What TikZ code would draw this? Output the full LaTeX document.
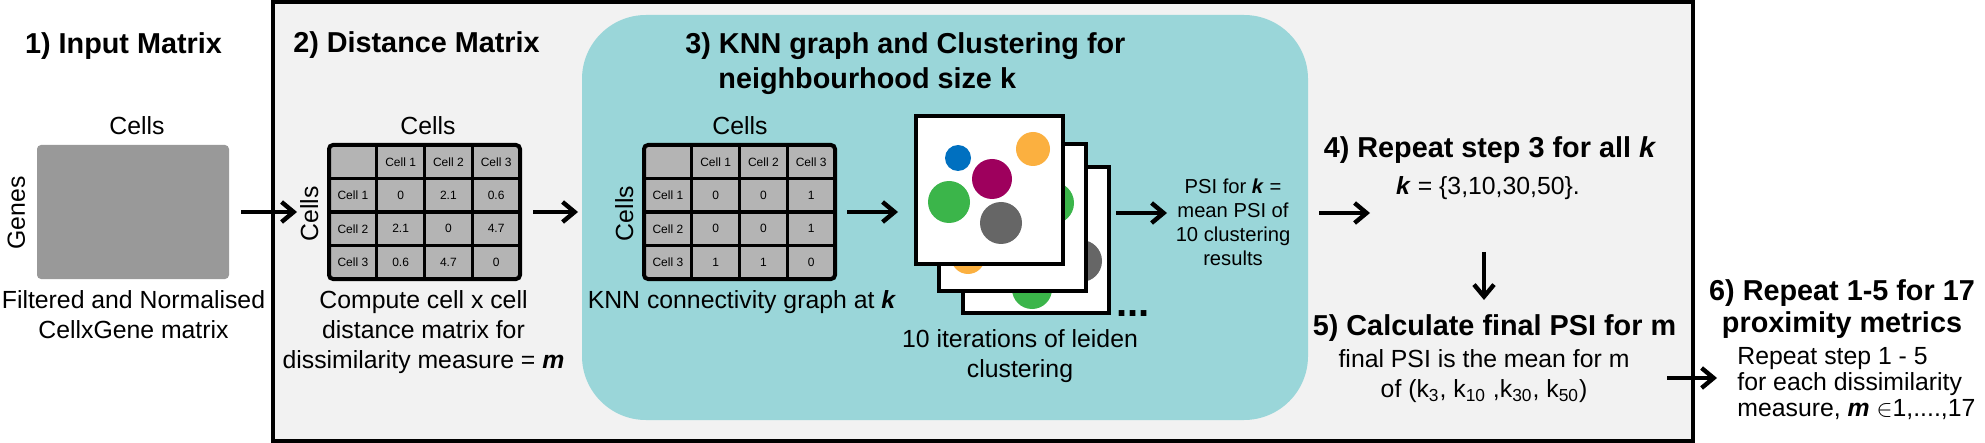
\documentclass[tikz,border=0pt]{standalone}
\usepackage{fontspec}
\setmainfont{Liberation Sans}
\usetikzlibrary{arrows.meta}
\definecolor{boxgray}{RGB}{242,242,242}
\definecolor{matgray}{RGB}{153,153,153}
\definecolor{tablegray}{RGB}{180,180,180}
\definecolor{tealbg}{RGB}{154,214,217}
\definecolor{dotblue}{RGB}{0,112,192}
\definecolor{dotorange}{RGB}{251,176,64}
\definecolor{dotpurple}{RGB}{158,0,93}
\definecolor{dotgreen}{RGB}{59,181,74}
\definecolor{dotgray}{RGB}{102,102,102}
\tikzset{steptitle/.style={font=\fontsize{14.4}{17.5}\selectfont\bfseries,inner sep=0pt}}
\tikzset{bodytext/.style={font=\fontsize{12.4}{15}\selectfont,inner sep=0pt,align=center}}
\tikzset{celltext/.style={font=\fontsize{6}{7}\selectfont,inner sep=0pt}}
\tikzset{flow/.style={line width=2.2pt,-{Straight Barb[length=6pt,width=10pt]}}}
\tikzset{sheet/.style={line width=2pt,draw=black}}
% table of cells: name, left edge, rows
\newcommand{\celltable}[3]{%
  \fill[tablegray,rounded corners=2pt] (#2,145) rectangle ++(191,134);
  \foreach \i in {1,2,3} {
    \draw[line width=1.6pt] (#2+47.75*\i,145) -- ++(0,134);
    \draw[line width=1.6pt] (#2,145+33.5*\i) -- ++(191,0);
  }
  \draw[line width=2pt,rounded corners=2pt] (#2,145) rectangle ++(191,134);
  \foreach [count=\r from 0] \row in {#3} {
    \foreach [count=\c from 0] \v in \row
      \node[celltext] (#1-\r-\c) at (#2+47.75*\c+23.875,145+33.5*\r+16.75) {\v};
  }
}

\begin{document}
\begin{tikzpicture}[x=0.5pt,y=-0.5pt]
	\useasboundingbox (0,0) rectangle (1985,443);
	% 1) input
	\node[steptitle,anchor=base] (title1) at (123.5,54) {1) Input Matrix};
	\node[bodytext,anchor=base] (incells) at (137,135) {Cells};
	\node[fill=matgray,rounded corners=2pt,minimum width=96pt,minimum height=67pt,inner sep=0pt] (inmat) at (133,212) {};
	\node[bodytext,anchor=base,rotate=90] (genes) at (25,213) {Genes};
	\node[bodytext,anchor=north] (infoot) at (133.5,290) {Filtered and Normalised\\CellxGene matrix};
	\coordinate (a1s) at (241,212);
	\coordinate (a1e) at (297,212);

	\draw[line width=1.6pt,fill=boxgray] (273,2) rectangle (1693,441);
	\draw[flow] (a1s) -- (a1e);

	% 2) distance
	\node[steptitle,anchor=base] (title2) at (416.5,53) {2) Distance Matrix};
	\node[bodytext,anchor=base] (dcells) at (428,135) {Cells};
	\node[bodytext,anchor=base,rotate=90] (dcellsv) at (318,214) {Cells};
	\celltable{d}{329}{{{},Cell 1,Cell 2,Cell 3},{Cell 1,0,2.1,0.6},{Cell 2,2.1,0,4.7},{Cell 3,0.6,4.7,0}}
	\node[bodytext,anchor=north] (dfoot) at (423.5,290) {Compute cell x cell\\distance matrix for\\dissimilarity measure = \textbf{\textit{m}}};
	\coordinate (a2s) at (533,212);
	\coordinate (a2e) at (578,212);
	\draw[flow] (a2s) -- (a2e);

	% 3) knn and clustering
	\fill[tealbg,rounded corners=32pt] (582,15) rectangle (1308,420);
	\node[steptitle,anchor=north west,align=left] (title3) at (685,32) {3) KNN graph and Clustering for\\\hspace*{16.5pt}neighbourhood size k};
	\node[bodytext,anchor=base] (kcells) at (740,135) {Cells};
	\node[bodytext,anchor=base,rotate=90] (kcellsv) at (633,213.5) {Cells};
	\celltable{n}{644}{{{},Cell 1,Cell 2,Cell 3},{Cell 1,0,0,1},{Cell 2,0,0,1},{Cell 3,1,1,0}}
	\node[bodytext,anchor=base] (kfoot) at (742,308) {KNN connectivity graph at \textbf{\textit{k}}};
	\coordinate (a3s) at (847,212);
	\coordinate (a3e) at (898,212);
	\draw[flow] (a3s) -- (a3e);

	\fill[white] (963,167) rectangle (1109,313);
	\begin{scope}
		\clip (963,167) rectangle (1109,313);
		\fill[dotgray] (1081,261) circle [radius=21];
		\fill[dotgreen] (1032,289) circle [radius=20];
	\end{scope}
	\draw[sheet] (963,167) rectangle (1109,313);
	\fill[white] (939,144) rectangle (1086,291);
	\begin{scope}
		\clip (939,144) rectangle (1086,291);
		\fill[dotgreen] (1053,203) circle [radius=21];
		\fill[dotorange] (968,257) circle [radius=17];
	\end{scope}
	\draw[sheet] (939,144) rectangle (1086,291);
	\fill[white] (916,116) rectangle (1063,264);
	\fill[dotblue] (958,158) circle [radius=13];
	\fill[dotorange] (1033,149) circle [radius=17];
	\fill[dotpurple] (992,179) circle [radius=20];
	\fill[dotgreen] (949,202) circle [radius=21];
	\fill[dotgray] (1001,223) circle [radius=21];
	\draw[sheet] (916,116) rectangle (1063,264);
	\node[font=\fontsize{20}{20}\selectfont\bfseries,inner sep=0pt,anchor=base] (dots) at (1133,316) {...};

	\node[bodytext,anchor=north] (leiden) at (1020,329) {10 iterations of leiden\\clustering};
	\coordinate (a4s) at (1116,213);
	\coordinate (a4e) at (1167,213);
	\draw[flow] (a4s) -- (a4e);
	\node[bodytext,font=\fontsize{10.1}{12}\selectfont,anchor=north] (psik) at (1233,178) {PSI for \textbf{\textit{k}} =\\mean PSI of\\10 clustering\\results};
	\coordinate (a5s) at (1319,213);
	\coordinate (a5e) at (1370,213);
	\draw[flow] (a5s) -- (a5e);

	% 4) and 5)
	\node[steptitle,anchor=base] (title4) at (1490,158) {4) Repeat step 3 for all \textit{k}};
	\node[bodytext,anchor=base] (kset) at (1488,195) {\textbf{\textit{k}} = \{3,10,30,50\}.};
	\coordinate (a6s) at (1484,252);
	\coordinate (a6e) at (1484,300);
	\draw[flow] (a6s) -- (a6e);
	\node[steptitle,anchor=base] (title5) at (1494.5,335) {5) Calculate final PSI for m};
	\node[bodytext,anchor=north] (final) at (1484,349) {final PSI is the mean for m\\of (k\textsubscript{3}, k\textsubscript{10} ,k\textsubscript{30}, k\textsubscript{50})};

	% 6) repeat
	\coordinate (a7s) at (1667,378);
	\coordinate (a7e) at (1717,378);
	\draw[flow] (a7s) -- (a7e);
	\node[steptitle,anchor=north,align=center,font=\fontsize{14.4}{16}\selectfont\bfseries] (title6) at (1842,279) {6) Repeat 1-5 for 17\\proximity metrics};
	\node[bodytext,anchor=north west,align=left,font=\fontsize{12.4}{13}\selectfont] (rep6) at (1737,347) {Repeat step 1 - 5\\for each dissimilarity\\measure, \textbf{\textit{m}} $\in$1,....,17};
\end{tikzpicture}
\end{document}
